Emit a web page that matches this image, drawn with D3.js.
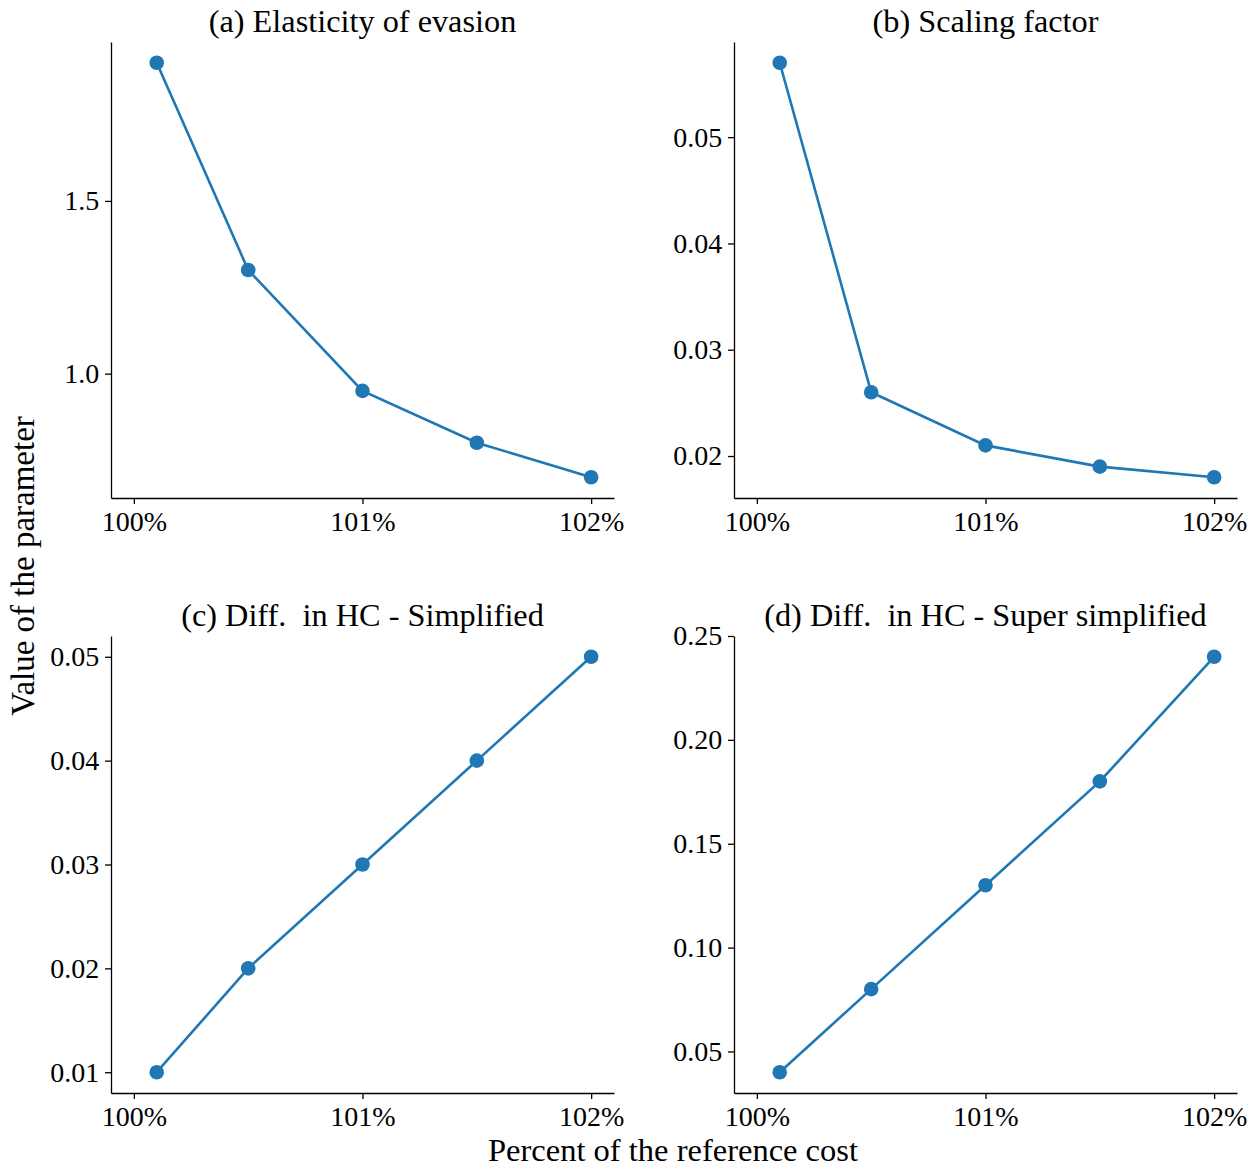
<!DOCTYPE html>
<html><head><meta charset="utf-8">
<script src="https://cdn.jsdelivr.net/npm/d3@7"></script>
<style>body{margin:0;background:#fff}svg{display:block}text{font-family:"Liberation Serif","DejaVu Serif",serif;fill:#000}</style>
</head><body><svg id="c" width="1258" height="1169"></svg>
<script>
const xValues = [100.1, 100.5, 101, 101.5, 102];
const xTicks = [100, 101, 102];
const titles = ["(a) Elasticity of evasion", "(b) Scaling factor", "(c) Diff.  in HC - Simplified", "(d) Diff.  in HC - Super simplified"];
const seriesA = [1.9, 1.3, 0.95, 0.80, 0.70];
const seriesB = [0.057, 0.026, 0.021, 0.019, 0.018];
const seriesC = [0.01, 0.02, 0.03, 0.04, 0.05];
const seriesD = [0.04, 0.08, 0.13, 0.18, 0.24];
const yTicksA = [1.0, 1.5];
const yTicksB = [0.02, 0.03, 0.04, 0.05];
const yTicksC = [0.01, 0.02, 0.03, 0.04, 0.05];
const yTicksD = [0.05, 0.10, 0.15, 0.20, 0.25];
const yFormats = [".1f", ".2f", ".2f", ".2f"];
const xLabel = "Percent of the reference cost";
const yLabel = "Value of the parameter";

const svg = d3.select("#c");
const color = "#1f77b4";
const panels = [
  {x0:111, x1:614, y0:42, y1:498, s:seriesA, t:yTicksA},
  {x0:734, x1:1237, y0:42, y1:498, s:seriesB, t:yTicksB},
  {x0:111, x1:614, y0:636, y1:1093, s:seriesC, t:yTicksC},
  {x0:734, x1:1237, y0:636, y1:1093, s:seriesD, t:yTicksD}
];
const xmin = d3.min(xValues.concat([100])), xmax = d3.max(xValues);
const xpad = (xmax - xmin) * 0.05;

panels.forEach((p, i) => {
  const x = d3.scaleLinear().domain([xmin - xpad, xmax + xpad]).range([p.x0, p.x1]);
  const lo = d3.min(p.s), hi = d3.max(p.s), pad = (hi - lo) * 0.05;
  const y = d3.scaleLinear().domain([lo - pad, hi + pad]).range([p.y1, p.y0]);
  const g = svg.append("g");
  const xa = g.append("g").attr("transform", `translate(0,${p.y1})`)
    .call(d3.axisBottom(x).tickValues(xTicks).tickFormat(d => d + "%").tickSize(6).tickSizeOuter(0));
  const ya = g.append("g").attr("transform", `translate(${p.x0},0)`)
    .call(d3.axisLeft(y).tickValues(p.t).tickFormat(d3.format(yFormats[i])).tickSize(6).tickSizeOuter(0));
  [xa, ya].forEach(a => {
    a.select(".domain").attr("stroke", "#000").attr("stroke-width", 1.3);
    a.selectAll(".tick line").attr("stroke", "#000").attr("stroke-width", 1.3);
    a.selectAll(".tick text").attr("font-size", 28).attr("font-family", "Liberation Serif");
  });
  xa.selectAll(".tick text").attr("dy", "0.85em");
  ya.selectAll(".tick text").attr("dx", "-0.1em");
  const pts = xValues.map((v, k) => [x(v), y(p.s[k])]);
  g.append("path").attr("d", d3.line()(pts)).attr("fill", "none").attr("stroke", color).attr("stroke-width", 2.6);
  g.selectAll("circle").data(pts).enter().append("circle")
    .attr("cx", d => d[0]).attr("cy", d => d[1]).attr("r", 7.3).attr("fill", color);
  g.append("text").attr("x", (p.x0 + p.x1) / 2).attr("y", p.y0 - 10).attr("text-anchor", "middle")
    .attr("font-size", 32.3).style("white-space", "pre").text(titles[i]);
});
svg.append("text").attr("x", 673).attr("y", 1161).attr("text-anchor", "middle").attr("font-size", 32.5).text(xLabel);
svg.append("text").attr("transform", "translate(34,566) rotate(-90)").attr("text-anchor", "middle").attr("font-size", 33).text(yLabel);
</script></body></html>
